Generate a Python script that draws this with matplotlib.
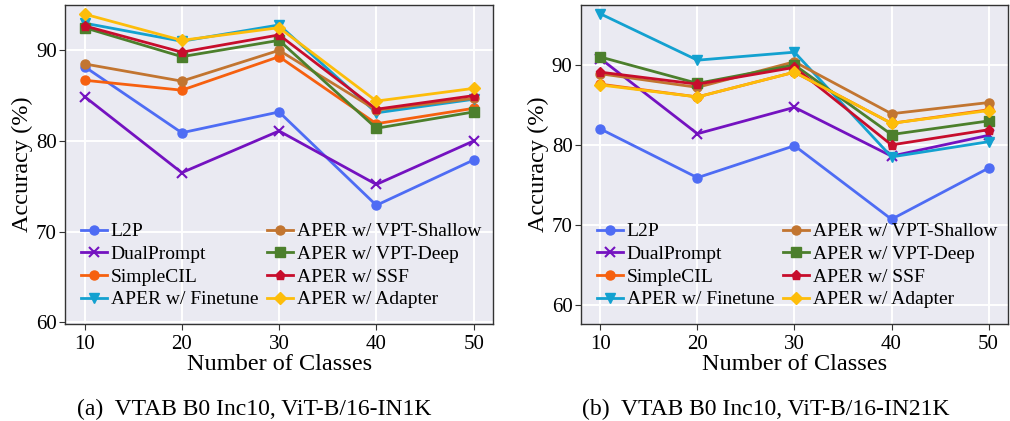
import numpy as np
import matplotlib.pyplot as plt

classes = [10, 20, 30, 40, 50]

names = ['L2P', 'DualPrompt', 'SimpleCIL', 'APER w/ Finetune',
         'APER w/ VPT-Shallow', 'APER w/ VPT-Deep', 'APER w/ SSF', 'APER w/ Adapter']
colors = ['#4e6cf4', '#7412c0', '#f6600f', '#13a1d0',
          '#c27530', '#4c7f2c', '#c70d2c', '#fdbd0a']
markers = ['o', 'x', 'o', 'v', 'o', 's', 'p', 'D']

# ViT-B/16-IN1K
in1k_l2p = [88.2, 80.9, 83.2, 72.9, 77.9]
in1k_dual = [84.9, 76.5, 81.1, 75.2, 80.0]
in1k_simple = [86.7, 85.6, 89.3, 81.9, 83.6]
in1k_finetune = [93.0, 91.0, 92.8, 83.1, 84.6]
in1k_shallow = [88.5, 86.6, 90.0, 83.4, 84.7]
in1k_deep = [92.5, 89.3, 91.1, 81.4, 83.2]
in1k_ssf = [92.7, 89.8, 91.7, 83.5, 85.0]
in1k_adapter = [94.0, 91.1, 92.5, 84.4, 85.8]

# ViT-B/16-IN21K
in21k_l2p = [82.0, 75.9, 79.9, 70.7, 77.1]
in21k_dual = [90.8, 81.4, 84.7, 78.6, 81.2]
in21k_simple = [87.6, 86.0, 89.1, 82.7, 84.4]
in21k_finetune = [96.4, 90.6, 91.6, 78.5, 80.4]
in21k_shallow = [88.9, 87.2, 90.4, 83.9, 85.3]
in21k_deep = [91.0, 87.7, 90.0, 81.3, 83.0]
in21k_ssf = [89.1, 87.6, 89.7, 80.0, 81.9]
in21k_adapter = [87.5, 86.0, 89.1, 82.7, 84.3]

in1k = [in1k_l2p, in1k_dual, in1k_simple, in1k_finetune,
        in1k_shallow, in1k_deep, in1k_ssf, in1k_adapter]
in21k = [in21k_l2p, in21k_dual, in21k_simple, in21k_finetune,
         in21k_shallow, in21k_deep, in21k_ssf, in21k_adapter]

plt.rcParams['font.family'] = ['Liberation Serif', 'DejaVu Serif']
plt.rcParams['mathtext.fontset'] = 'stix'

fig = plt.figure(figsize=(10.1, 4.21), dpi=100)
ax1 = fig.add_axes([0.0644, 0.2304, 0.4238, 0.7577])
ax2 = fig.add_axes([0.5752, 0.2304, 0.4228, 0.7577])


def draw(ax, data, ylim):
    ax.set_facecolor('#eaeaf2')
    ax.grid(True, color='white', linewidth=1.4)
    ax.set_axisbelow(True)
    for s in ax.spines.values():
        s.set_color('#333333')
        s.set_linewidth(1.0)
    for vals, name, c, m in zip(data, names, colors, markers):
        ms = 7 if m == 'x' else 6.5
        ax.plot(classes, vals, color=c, marker=m, markersize=ms, linewidth=2,
                markeredgewidth=1.5 if m == 'x' else 1, label=name)
    ax.set_xlim(8, 52)
    ax.set_ylim(*ylim)
    ax.set_xticks(classes)
    ax.set_yticks([60, 70, 80, 90])
    ax.tick_params(labelsize=15, length=4, color='#333333', pad=2)
    ax.tick_params(axis='x', pad=4)
    ax.set_xlabel('Number of Classes', fontsize=17.5, labelpad=0)
    ax.set_ylabel('Accuracy (%)', fontsize=17.5, labelpad=2)
    ax.legend(loc='lower left', ncol=2, frameon=False, fontsize=14,
              handlelength=1.35, handletextpad=0.2, columnspacing=0.45,
              labelspacing=0.26, borderaxespad=0.4, borderpad=0.4,
              bbox_to_anchor=(0.0, 0.0))


draw(ax1, in1k, (59.8, 95.0))
draw(ax2, in21k, (57.6, 97.5))

fig.text(254 / 1010, 0.028, '(a)  VTAB B0 Inc10, ViT-B/16-IN1K', ha='center', va='center', fontsize=17)
fig.text(766 / 1010, 0.028, '(b)  VTAB B0 Inc10, ViT-B/16-IN21K', ha='center', va='center', fontsize=17)

fig.savefig('out.png', dpi=100)
